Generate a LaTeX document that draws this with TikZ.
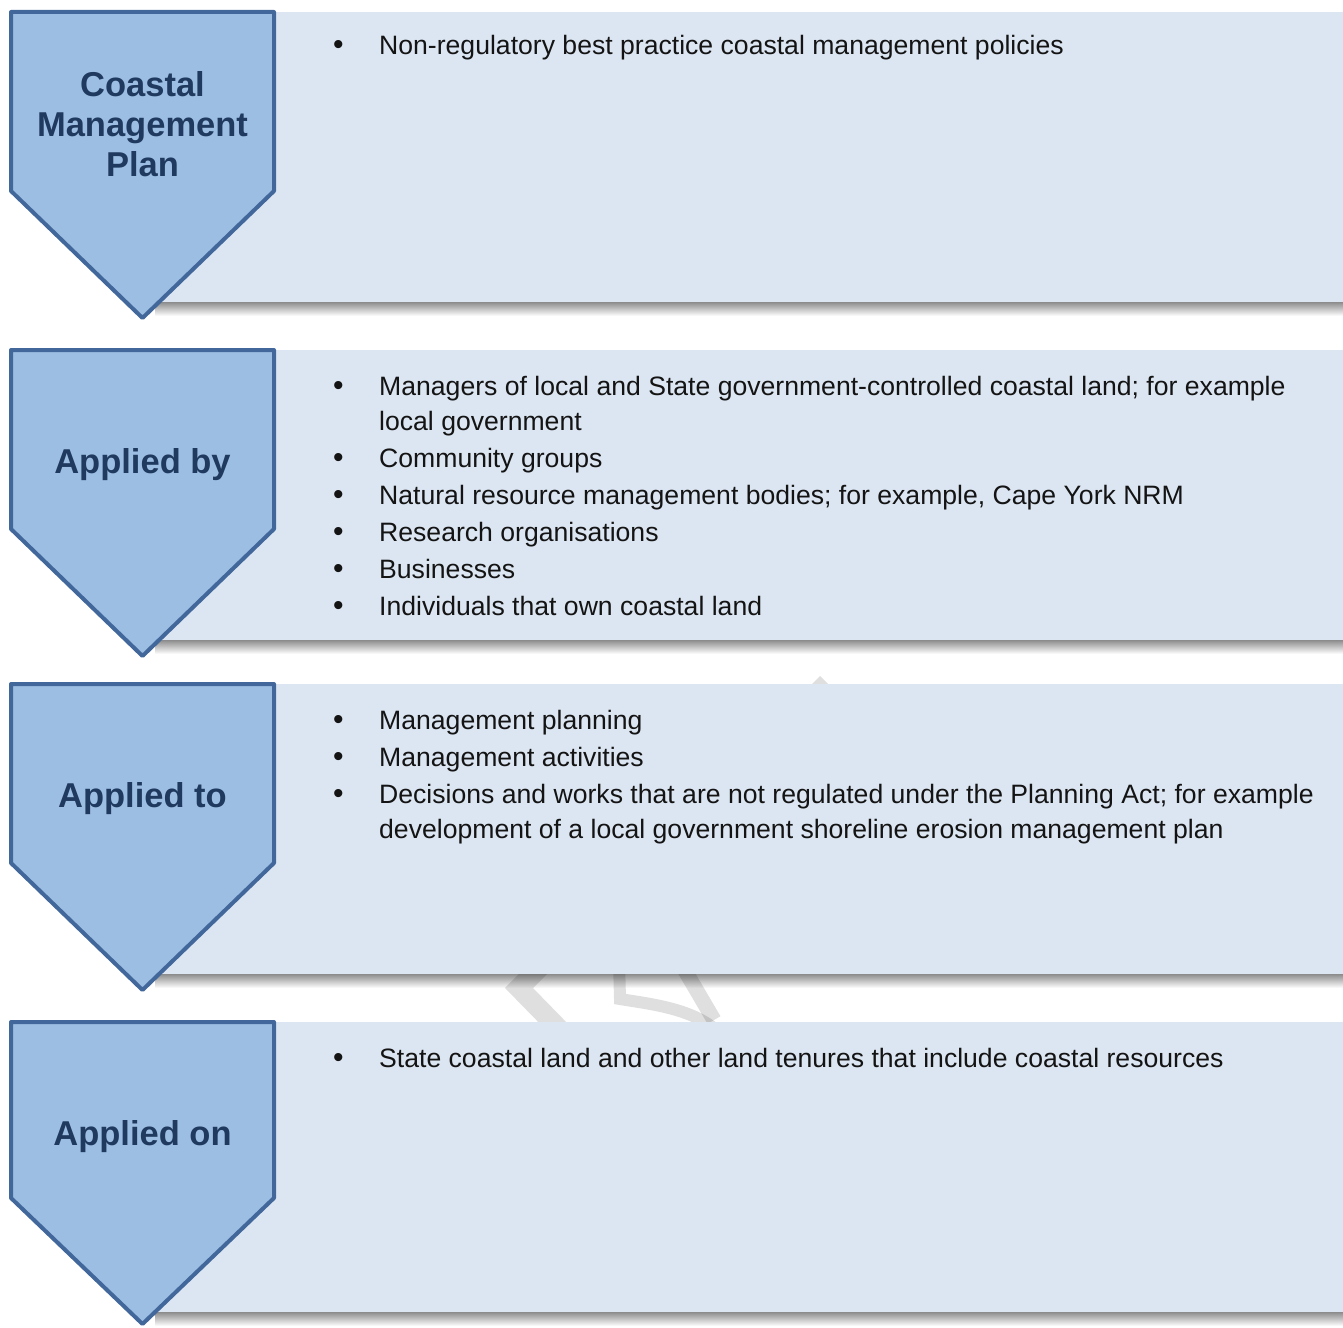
\documentclass[tikz,border=0pt]{standalone}
\usepackage{fontspec}
\setmainfont{Liberation Sans}
\usepackage{array}
\usepackage{xcolor}
\definecolor{ChevronFill}{HTML}{9DBEE3}
\definecolor{ChevronLine}{HTML}{41679B}
\definecolor{TitleBlue}{HTML}{1F3A5E}
\definecolor{PanelFill}{HTML}{DCE6F2}
\definecolor{MarkGrey}{HTML}{DFDFDF}
\usetikzlibrary{positioning}

\newcommand{\itemrow}[1]{{\fontsize{30}{35}\selectfont\textbullet} & #1}

\begin{document}
\begin{tikzpicture}[
    x=1pt, y=-1pt,
    panel/.style={
      rectangle, fill=PanelFill, inner sep=0pt,
      minimum width=1201pt, minimum height=290pt,
      anchor=north west
    },
    shadowband/.style={top color=black!45, bottom color=white},
    chevron/.style={
      draw=ChevronLine, fill=ChevronFill,
      line width=4pt, line join=round
    },
    title/.style={
      align=center, text=TitleBlue,
      font=\fontsize{34.5}{40}\selectfont\bfseries
    },
    items/.style={
      anchor=base west, inner sep=0pt, text=black!92,
      font=\fontsize{26.6}{35}\selectfont
    },
    watermark/.style={draw=MarkGrey, line cap=butt, blend mode=multiply}
  ]
    \useasboundingbox (0,0) rectangle (1343,1327);

    % soft shadows under the panels
    \shade[shadowband] (155,302) rectangle (1343,316);
    \shade[shadowband] (155,640) rectangle (1343,654);
    \shade[shadowband] (155,974) rectangle (1343,988);
    \shade[shadowband] (155,1312) rectangle (1343,1326);

    % faint watermark strokes, mostly hidden by the panels
    \draw[watermark, line width=20pt] (545,962) -- (519,988) -- (560,1030);
    \draw[watermark, line width=12pt] (619,960) -- (620,999) .. controls (650,1004) and (690,1008) .. (716,1030);
    \draw[watermark, line width=15pt] (680,962) -- (714,1020);
    \fill[MarkGrey] (806,690) -- (820,676) -- (834,690) -- cycle;

    % panel 1
    \node[panel] (bg1) at (142,12) {};
    \draw[chevron] (11,12) -- (274,12) -- (274,191) -- (142.5,318) -- (11,191) -- cycle;
    \node[title] (t1) at (142.5,124) {Coastal\\Management\\Plan};
    \node[items] (l1) at (333,55) {%
      \begin{tabular}[t]{@{}p{46pt}@{}l@{}}
        \itemrow{Non-regulatory best practice coastal management policies}
      \end{tabular}};

    % panel 2
    \node[panel] (bg2) at (142,350) {};
    \draw[chevron] (11,350) -- (274,350) -- (274,529) -- (142.5,656) -- (11,529) -- cycle;
    \node[title] (t2) at (142.5,465) {Applied by};
    \node[items] (l2) at (333,395) {%
      \begin{tabular}[t]{@{}p{46pt}@{}l@{}}
        \itemrow{Managers of local and State government-controlled coastal land; for example} \\
         & local government \\[2pt]
        \itemrow{Community groups} \\[2pt]
        \itemrow{Natural resource management bodies; for example, Cape York NRM} \\[2pt]
        \itemrow{Research organisations} \\[2pt]
        \itemrow{Businesses} \\[2pt]
        \itemrow{Individuals that own coastal land}
      \end{tabular}};

    % panel 3
    \node[panel] (bg3) at (142,684) {};
    \draw[chevron] (11,684) -- (274,684) -- (274,863) -- (142.5,990) -- (11,863) -- cycle;
    \node[title] (t3) at (142.5,799) {Applied to};
    \node[items] (l3) at (333,729) {%
      \begin{tabular}[t]{@{}p{46pt}@{}l@{}}
        \itemrow{Management planning} \\[2pt]
        \itemrow{Management activities} \\[2pt]
        \itemrow{Decisions and works that are not regulated under the Planning Act; for example} \\
         & development of a local government shoreline erosion management plan
      \end{tabular}};

    % panel 4
    \node[panel] (bg4) at (142,1022) {};
    \draw[chevron] (11,1022) -- (274,1022) -- (274,1198) -- (142.5,1324) -- (11,1198) -- cycle;
    \node[title] (t4) at (142.5,1137) {Applied on};
    \node[items] (l4) at (333,1067) {%
      \begin{tabular}[t]{@{}p{46pt}@{}l@{}}
        \itemrow{State coastal land and other land tenures that include coastal resources}
      \end{tabular}};
  \end{tikzpicture}
\end{document}
